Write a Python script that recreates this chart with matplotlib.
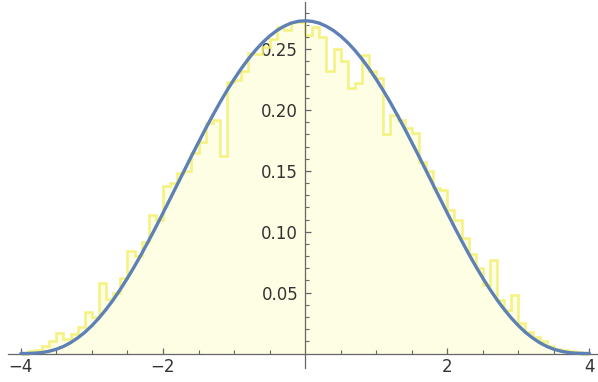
import numpy as np
import matplotlib
matplotlib.use("Agg")
import matplotlib.pyplot as plt
from matplotlib.ticker import FixedLocator

# histogram: bin width 0.1 on [-4, 4], heights
bin_edges = np.round(np.arange(-4.0, 4.0001, 0.1), 2)
hist_heights = [
    0.000, 0.002, 0.003, 0.006, 0.010, 0.017, 0.012, 0.016, 0.022, 0.034,
    0.030, 0.058, 0.045, 0.050, 0.062, 0.084, 0.080, 0.092, 0.114, 0.110,
    0.138, 0.140, 0.148, 0.150, 0.165, 0.174, 0.189, 0.192, 0.162, 0.223,
    0.225, 0.232, 0.247, 0.246, 0.252, 0.258, 0.268, 0.266, 0.272, 0.272,
    0.262, 0.268, 0.260, 0.232, 0.250, 0.240, 0.218, 0.222, 0.245, 0.232,
    0.226, 0.180, 0.196, 0.192, 0.185, 0.181, 0.157, 0.150, 0.136, 0.134,
    0.118, 0.110, 0.095, 0.082, 0.070, 0.056, 0.077, 0.044, 0.036, 0.048,
    0.025, 0.018, 0.0135, 0.010, 0.006, 0.004, 0.003, 0.002, 0.001, 0.000,
]

# smooth density curve, values read at steps of 0.1
curve_x = np.round(np.arange(-4.0, 4.0001, 0.1), 2)
half = [0.2734, 0.2729, 0.2714, 0.2688, 0.2653, 0.2608, 0.2554, 0.2491, 0.2419,
        0.2340, 0.2253, 0.2160, 0.2061, 0.1956, 0.1848, 0.1735, 0.1621, 0.1504,
        0.1387, 0.1270, 0.1154, 0.1039, 0.0928, 0.0820, 0.0717, 0.0619, 0.0527,
        0.0441, 0.0363, 0.0292, 0.0229, 0.0174, 0.0128, 0.0089, 0.0058, 0.0035,
        0.0019, 0.0008, 0.0003, 0.00003, 0.0]
curve_y = half[::-1] + half[1:]

x_major = [-4, -2, 2, 4]
x_minor = [-3.5, -3, -2.5, -1.5, -1, -0.5, 0.5, 1, 1.5, 2.5, 3, 3.5]
y_major = [0.05, 0.10, 0.15, 0.20, 0.25]
y_minor = [0.01, 0.02, 0.03, 0.04, 0.06, 0.07, 0.08, 0.09, 0.11, 0.12, 0.13,
           0.14, 0.16, 0.17, 0.18, 0.19, 0.21, 0.22, 0.23, 0.24, 0.26, 0.27, 0.28]

fig = plt.figure(figsize=(5.98, 3.82), dpi=100)
ax = fig.add_axes([8 / 598, 14 / 382, 590 / 598, 366 / 382])

ax.stairs(hist_heights, bin_edges, fill=True, color="#fefee4", zorder=1)
ax.stairs(hist_heights, bin_edges, color="#f4f070", lw=1.9, alpha=0.85, zorder=2)
ax.plot(curve_x, curve_y, color="#5e81b5", lw=2.4, zorder=3, solid_capstyle="round")

ax.set_xlim(-4.18, 4.12)
ax.set_ylim(-0.0119, 0.2888)

for side in ["top", "right"]:
    ax.spines[side].set_visible(False)
ax.spines["left"].set_position(("data", 0))
ax.spines["bottom"].set_position(("data", 0))
for side in ["left", "bottom"]:
    ax.spines[side].set_color("#666666")
    ax.spines[side].set_linewidth(0.9)

ax.xaxis.set_major_locator(FixedLocator(x_major))
ax.xaxis.set_minor_locator(FixedLocator(x_minor))
ax.yaxis.set_major_locator(FixedLocator(y_major))
ax.yaxis.set_minor_locator(FixedLocator(y_minor))
ax.set_xticklabels(["\u22124", "\u22122", "2", "4"])
ax.set_yticklabels(["0.05", "0.10", "0.15", "0.20", "0.25"])

ax.tick_params(which="both", direction="in", color="#666666", labelcolor="#333333",
               labelsize=12)
ax.tick_params(which="major", length=4.5, width=0.9)
ax.tick_params(which="minor", length=2.8, width=0.8)
ax.tick_params(axis="x", pad=3)
ax.tick_params(axis="y", pad=5)

ax.patch.set_alpha(0)
fig.savefig("out.png", dpi=100)
